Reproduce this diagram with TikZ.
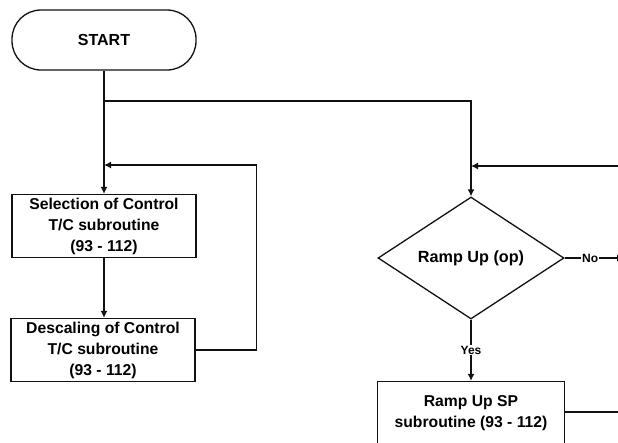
\documentclass[tikz,border=0pt]{standalone}
\usepackage{fontspec}
\setmainfont{Liberation Sans}
\usepackage{tikz}
\usetikzlibrary{arrows.meta, positioning, shapes.geometric, calc}
\definecolor{inkline}{HTML}{111111}
\tikzset{
  startbox/.style={draw=inkline, rounded corners=29pt, align=center,
    minimum height=60pt, minimum width=184pt, font=\bfseries\fontsize{16}{21}\selectfont, line width=1.3pt},
  procbox/.style={draw=inkline, align=center, inner sep=0pt,
    minimum height=63pt, minimum width=184pt, font=\bfseries\fontsize{15.7}{21}\selectfont, line width=1.3pt},
  decbox/.style={draw=inkline, diamond, align=center, inner sep=0pt,
    minimum height=122pt, minimum width=186pt, font=\bfseries\fontsize{16.2}{21}\selectfont, line width=1.3pt},
  flow/.style={-{Latex[length=7pt, width=7pt]}, draw=inkline, line width=1.3pt},
  wire/.style={draw=inkline, line width=1.3pt},
  lbl/.style={fill=white, inner sep=1pt, font=\bfseries\fontsize{12}{13}\selectfont}
}
\begin{document}
\begin{tikzpicture}[x=1pt, y=-1pt]
\useasboundingbox (0,0) rectangle (618,442);
\node[startbox] (start) at (104,40) {START};
\node[procbox] (sel) at (104,226) {Selection of Control\\T/C subroutine\\(93 - 112)};
\node[procbox] (desc) at (103,350) {Descaling of Control\\T/C subroutine\\(93 - 112)};
\node[decbox] (ramp) at (471,258) {Ramp Up (op)};
\node[procbox, minimum width=187pt] (rampsp) at (471,413) {Ramp Up SP\\subroutine (93 - 112)};
\coordinate (split) at (104,101);
\coordinate (loopin) at (104,165);
\coordinate (rightin) at (620,166);
\coordinate (rampin) at (471,166);
\coordinate (noout) at (624,258);
\coordinate (spout) at (620,412);
\draw[flow] (start.south) -- (sel.north);
\draw[flow] (sel.south) -- (sel.south |- desc.north);
\draw[flow] (split) -| (ramp.north);
\draw[flow] (desc.east) -- ++(61,0) |- (loopin);
\draw[flow] (rightin) -- (rampin);
\draw[flow] (ramp.east) -- node[lbl, pos=0.43] {No} (noout);
\draw[flow] (ramp.south) -- node[lbl] {Yes} (rampsp.north);
\draw[wire] (rampsp.east |- spout) -- (spout);
\end{tikzpicture}
\end{document}
